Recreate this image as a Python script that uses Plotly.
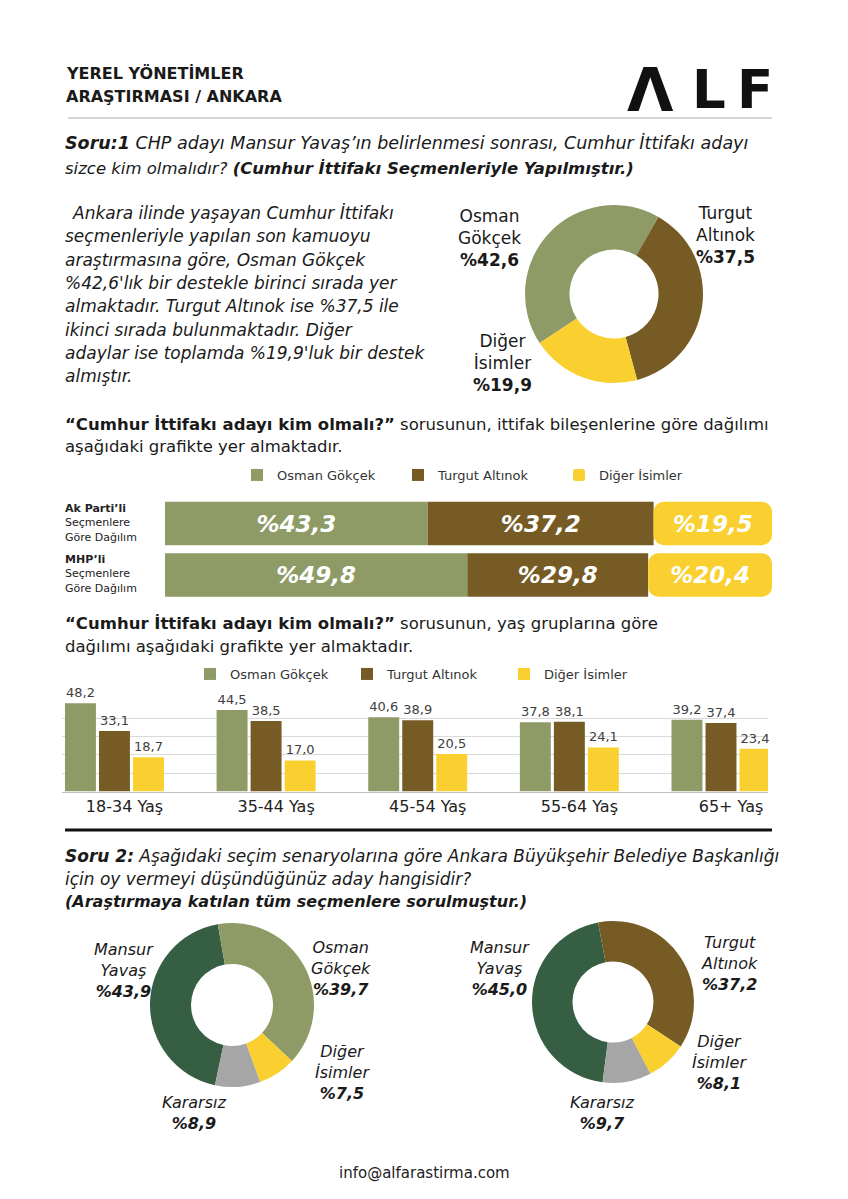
import plotly.graph_objects as go

# The page body has an 8px margin; the figure is sized and positioned to compensate.
OFF = 8
W, H = 848 - OFF, 1199 - OFF
def X(px): return (px - OFF) / W
def Y(py): return 1 - (py - OFF) / H

OLIVE = "#8E9B66"; BROWN = "#765B24"; YELLOW = "#F9D02F"; DKGREEN = "#355E42"; GRAY = "#A6A6A6"
FONT = "DejaVu Sans"
TXT = "#1A1A1A"

# ---------------- data ----------------
q1_labels = ["Osman Gökçek", "Turgut Altınok", "Diğer İsimler"]
q1_values = [42.6, 37.5, 19.9]

party_groups = ["Ak Parti’li", "MHP’li"]
party_osman = [43.3, 49.8]
party_turgut = [37.2, 29.8]
party_diger = [19.5, 20.4]

age_groups = ["18-34 Yaş", "35-44 Yaş", "45-54 Yaş", "55-64 Yaş", "65+ Yaş"]
age_osman = [48.2, 44.5, 40.6, 37.8, 39.2]
age_turgut = [33.1, 38.5, 38.9, 38.1, 37.4]
age_diger = [18.7, 17.0, 20.5, 24.1, 23.4]

s1_labels = ["Mansur Yavaş", "Osman Gökçek", "Diğer İsimler", "Kararsız"]
s1_values = [43.9, 39.7, 7.5, 8.9]
s2_labels = ["Mansur Yavaş", "Turgut Altınok", "Diğer İsimler", "Kararsız"]
s2_values = [45.0, 37.2, 8.1, 9.7]

def pct(v):
    return "%" + f"{v:.1f}".replace(".", ",")

def dom(cx, cy, r):
    return dict(x=[X(cx - r), X(cx + r)], y=[Y(cy + r), Y(cy - r)])

fig = go.Figure()

# ---------------- donut 1 ----------------
fig.add_trace(go.Pie(labels=q1_labels, values=q1_values, hole=0.5, sort=False,
                     direction="clockwise", rotation=-123.4,
                     marker=dict(colors=[OLIVE, BROWN, YELLOW], line=dict(width=0)),
                     textinfo="none", showlegend=False, domain=dom(614, 294, 89)))

# ---------------- stacked horizontal bars ----------------
cum1 = [a + b for a, b in zip(party_osman, party_turgut)]
for name, vals, base, col, cr in [("Osman Gökçek", party_osman, [0, 0], OLIVE, 0),
                                   ("Turgut Altınok", party_turgut, party_osman, BROWN, 0),
                                   ("Diğer İsimler", party_diger, cum1, YELLOW, 10)]:
    fig.add_trace(go.Bar(y=party_groups, x=vals, base=base, orientation="h", name=name,
                         marker=dict(color=col, line=dict(width=0), cornerradius=cr),
                         width=0.845, offset=-0.4225, offsetgroup="stk",
                         text=[pct(v) for v in vals], texttemplate="<b><i>%{text}</i></b>",
                         textposition="inside", insidetextanchor="middle",
                         textfont=dict(color="white", size=23, family=FONT),
                         xaxis="x", yaxis="y", legend="legend", hoverinfo="skip"))

# ---------------- grouped bars ----------------
for name, vals, col in [("Osman Gökçek", age_osman, OLIVE),
                        ("Turgut Altınok", age_turgut, BROWN),
                        ("Diğer İsimler", age_diger, YELLOW)]:
    fig.add_trace(go.Bar(x=age_groups, y=vals, name=name, marker=dict(color=col, line=dict(width=0)),
                         texttemplate="%{y:.1f}", textposition="outside", cliponaxis=False,
                         textfont=dict(color="#404040", size=13, family=FONT),
                         xaxis="x2", yaxis="y2", legend="legend2", hoverinfo="skip"))

# ---------------- donuts 2 and 3 ----------------
fig.add_trace(go.Pie(labels=s1_labels, values=s1_values, hole=0.5, sort=False,
                     direction="clockwise", rotation=-168,
                     marker=dict(colors=[DKGREEN, OLIVE, YELLOW, GRAY], line=dict(width=0)),
                     textinfo="none", showlegend=False, domain=dom(232, 1005, 82)))
fig.add_trace(go.Pie(labels=s2_labels, values=s2_values, hole=0.5, sort=False,
                     direction="clockwise", rotation=-172.6,
                     marker=dict(colors=[DKGREEN, BROWN, YELLOW, GRAY], line=dict(width=0)),
                     textinfo="none", showlegend=False, domain=dom(613, 1002, 81)))

ann = []
def A(px, py, text, size=16, xanchor="left", align="left", color=TXT, yanchor="middle"):
    ann.append(dict(x=X(px), y=Y(py), xref="paper", yref="paper", text=text, showarrow=False,
                    xanchor=xanchor, yanchor=yanchor, align=align,
                    font=dict(size=size, color=color, family=FONT)))

# header
A(64, 74, "<b>YEREL YÖNETİMLER</b>", 16)
A(64, 97, "<b>ARAŞTIRMASI / ANKARA</b>", 16)
A(650, 90, "<b>Λ</b>", 60, xanchor="center", color="#111")
A(709, 90, "<b>L</b>", 53, xanchor="center", color="#111")
A(755, 90, "<b>F</b>", 53, xanchor="center", color="#111")

# question 1
A(63, 143, "<b><i>Soru:1</i></b><i> CHP adayı Mansur Yavaş’ın belirlenmesi sonrası, Cumhur İttifakı adayı</i>", 17.5)
A(63, 168, "<i>sizce kim olmalıdır? <b>(Cumhur İttifakı Seçmenleriyle Yapılmıştır.)</b></i>", 16.5)

para = ["Ankara ilinde yaşayan Cumhur İttifakı",
        "seçmenleriyle yapılan son kamuoyu",
        "araştırmasına göre, Osman Gökçek",
        "%42,6'lık bir destekle birinci sırada yer",
        "almaktadır. Turgut Altınok ise %37,5 ile",
        "ikinci sırada bulunmaktadır. Diğer",
        "adaylar ise toplamda %19,9'luk bir destek",
        "almıştır."]
for i, line in enumerate(para):
    A(63 if i else 70, 213 + i * 23.3, "<i>" + line + "</i>", 17)

# donut 1 labels
def lab(name, v, italic=False):
    t = name.replace(" ", "<br>") + "<br><b>" + pct(v) + "</b>"
    return "<i>" + t + "</i>" if italic else t
A(490, 238, lab(q1_labels[0], q1_values[0]), 17, xanchor="center", align="center")
A(725, 235, lab(q1_labels[1], q1_values[1]), 17, xanchor="center", align="center")
A(502, 363, lab(q1_labels[2], q1_values[2]), 17, xanchor="center", align="center")

# section texts
A(63, 424, "<b>“Cumhur İttifakı adayı kim olmalı?”</b> sorusunun, ittifak bileşenlerine göre dağılımı", 16.5)
A(63, 447, "aşağıdaki grafikte yer almaktadır.", 16.5)
A(63, 623, "<b>“Cumhur İttifakı adayı kim olmalı?”</b> sorusunun, yaş gruplarına göre", 16.5)
A(63, 646, "dağılımı aşağıdaki grafikte yer almaktadır.", 16.5)

# stacked bar row labels
A(63, 523, "<b>" + party_groups[0] + "</b><br>Seçmenlere<br>Göre Dağılım", 11, color="#222")
A(63, 574, "<b>" + party_groups[1] + "</b><br>Seçmenlere<br>Göre Dağılım", 11, color="#222")

# question 2
A(63, 856, "<b><i>Soru 2:</i></b><i> Aşağıdaki seçim senaryolarına göre Ankara Büyükşehir Belediye Başkanlığı</i>", 17)
A(63, 879, "<i>için oy vermeyi düşündüğünüz aday hangisidir?</i>", 17)
A(63, 901, "<b><i>(Araştırmaya katılan tüm seçmenlere sorulmuştur.)</i></b>", 16)

# donut 2 labels
A(124, 970, lab(s1_labels[0], s1_values[0], True), 16, xanchor="center", align="center")
A(341, 968, lab(s1_labels[1], s1_values[1], True), 16, xanchor="center", align="center")
A(342, 1072, lab(s1_labels[2], s1_values[2], True), 16, xanchor="center", align="center")
A(194, 1113, lab(s1_labels[3], s1_values[3], True), 16, xanchor="center", align="center")
# donut 3 labels
A(500, 968, lab(s2_labels[0], s2_values[0], True), 16, xanchor="center", align="center")
A(729, 963, lab(s2_labels[1], s2_values[1], True), 16, xanchor="center", align="center")
A(719, 1062, lab(s2_labels[2], s2_values[2], True), 16, xanchor="center", align="center")
A(602, 1113, lab(s2_labels[3], s2_values[3], True), 16, xanchor="center", align="center")

# footer
A(424, 1173, "info@alfarastirma.com", 15, xanchor="center", align="center", color="#222")

shapes = [
    dict(type="line", xref="paper", yref="paper", x0=X(68), x1=X(772), y0=Y(118), y1=Y(118),
         line=dict(color="#AAAAAA", width=1)),
    dict(type="line", xref="paper", yref="paper", x0=X(65), x1=X(772), y0=Y(830), y1=Y(830),
         line=dict(color="#111111", width=3)),
]

fig.update_layout(
    width=W, height=H, margin=dict(l=0, r=0, t=0, b=0),
    paper_bgcolor="white", plot_bgcolor="rgba(0,0,0,0)",
    font=dict(family=FONT, color=TXT),
    separators=",.",
    barmode="group", bargap=0.327, bargroupgap=0.09,
    annotations=ann, shapes=shapes,
    xaxis=dict(domain=[X(165), X(772)], range=[0, 100], visible=False, fixedrange=True),
    yaxis=dict(domain=[Y(600.75), Y(497.75)], type="category", categoryarray=party_groups,
               autorange="reversed", visible=False),
    xaxis2=dict(domain=[X(62), X(768)], range=[-0.346, 4.31], type="category", anchor="y2",
                showline=True, linecolor="#BFBFBF", linewidth=1, ticks="", showgrid=False,
                tickfont=dict(size=16, color="#222", family=FONT), ticklabelshift=10),
    yaxis2=dict(domain=[Y(791.5), Y(700)], range=[0, 50], dtick=10, anchor="x2",
                showgrid=True, gridcolor="#D9D9D9", gridwidth=1, showticklabels=False,
                zeroline=False, ticks=""),
    legend=dict(orientation="h", x=X(237), y=Y(475), xanchor="left", yanchor="middle",
                font=dict(size=13, color="#333", family=FONT), entrywidth=116,
                bgcolor="rgba(0,0,0,0)", traceorder="normal"),
    legend2=dict(orientation="h", x=X(190), y=Y(674), xanchor="left", yanchor="middle",
                 font=dict(size=13, color="#333", family=FONT), entrywidth=112,
                 bgcolor="rgba(0,0,0,0)", traceorder="normal"),
)

fig.write_html("out.html")
